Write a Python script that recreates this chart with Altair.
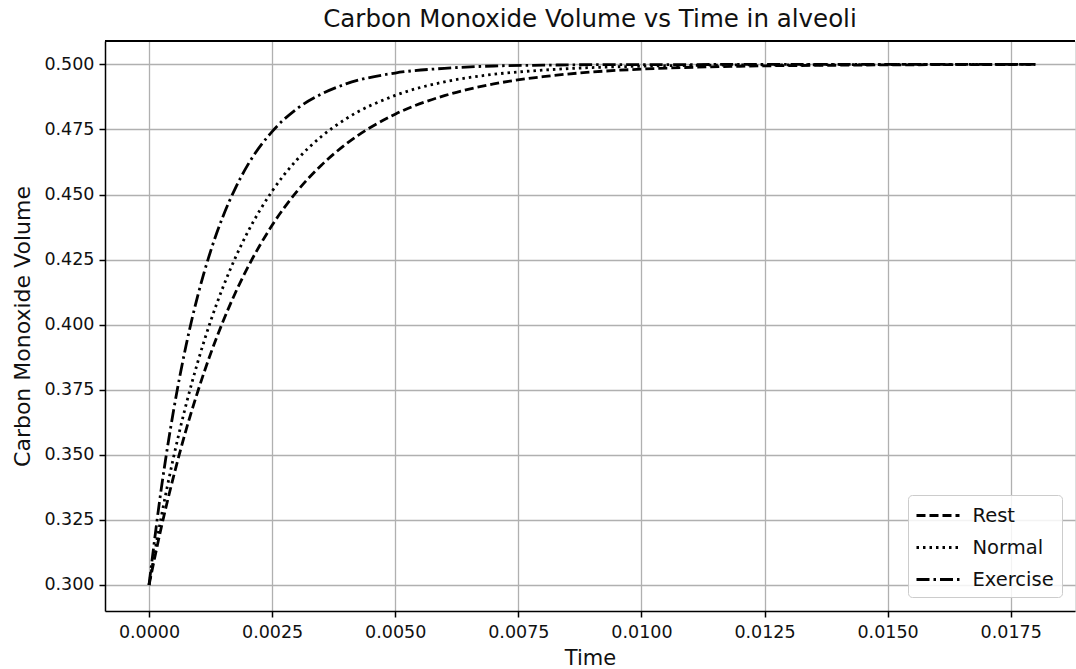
import altair as alt
import pandas as pd

# ---- data ----
time = [0, 0.00025, 0.0005, 0.00075, 0.001, 0.00125, 0.0015, 0.00175, 0.002,
        0.0025, 0.003, 0.0035, 0.004, 0.005, 0.006, 0.007, 0.008, 0.009,
        0.010, 0.012, 0.014, 0.016, 0.018]
rest = [0.300, 0.3222, 0.3418, 0.3594, 0.3749, 0.3888, 0.4011, 0.4121, 0.4218,
        0.4382, 0.4511, 0.4613, 0.4694, 0.4809, 0.4880, 0.4925, 0.4953, 0.4971,
        0.4982, 0.4993, 0.4997, 0.4999, 0.5000]
normal = [0.300, 0.3263, 0.3492, 0.3691, 0.3863, 0.4013, 0.4143, 0.4256, 0.4354,
          0.4513, 0.4633, 0.4723, 0.4791, 0.4881, 0.4933, 0.4962, 0.4978, 0.4988,
          0.4993, 0.4998, 0.4999, 0.5000, 0.5000]
exercise = [0.300, 0.3371, 0.3672, 0.3918, 0.4119, 0.4282, 0.4415, 0.4523, 0.4612,
            0.4742, 0.4829, 0.4886, 0.4925, 0.4967, 0.4985, 0.4994, 0.4997, 0.4999,
            0.4999, 0.5000, 0.5000, 0.5000, 0.5000]
series_names = ["Rest", "Normal", "Exercise"]
x_ticks = [0.0, 0.0025, 0.005, 0.0075, 0.01, 0.0125, 0.015, 0.0175]
y_ticks = [0.300, 0.325, 0.350, 0.375, 0.400, 0.425, 0.450, 0.475, 0.500]

rows = []
for name, vals in zip(series_names, [rest, normal, exercise]):
    for t, v in zip(time, vals):
        rows.append({"Time": t, "Volume": v, "Condition": name})
df = pd.DataFrame(rows)

FONT = "DejaVu Sans"
W, H = 970, 570

xscale = alt.Scale(domain=[-0.000894, 0.018806], nice=False, zero=False)
yscale = alt.Scale(domain=[0.29, 0.509], nice=False, zero=False)

lines = alt.Chart(df).mark_line(strokeWidth=2.8, color="black", interpolate="monotone", clip=True).encode(
    x=alt.X("Time:Q", scale=xscale,
            axis=alt.Axis(title="Time", values=x_ticks, format=".4f", grid=True,
                          gridColor="#b0b0b0", gridWidth=1.3,
                          domainColor="black", domainWidth=1.5,
                          tickColor="black", tickSize=6, tickWidth=1.5,
                          labelFontSize=17.5, labelFont=FONT, labelColor="#111111",
                          labelPadding=6, titleFontSize=21, titleFont=FONT,
                          titleFontWeight="normal", titleColor="#111111",
                          titlePadding=7, labelFlush=False)),
    y=alt.Y("Volume:Q", scale=yscale,
            axis=alt.Axis(title="Carbon Monoxide Volume", values=y_ticks, format=".3f",
                          grid=True, gridColor="#b0b0b0", gridWidth=1.3,
                          domainColor="black", domainWidth=1.5,
                          tickColor="black", tickSize=6, tickWidth=1.5,
                          labelFontSize=17.5, labelFont=FONT, labelColor="#111111",
                          labelPadding=5, titleFontSize=22, titleFont=FONT,
                          titleFontWeight="normal", titleColor="#111111",
                          titlePadding=9, labelFlush=False)),
    strokeDash=alt.StrokeDash(
        "Condition:N",
        scale=alt.Scale(domain=series_names,
                        range=[[9, 4], [2.5, 4], [13, 4, 2.5, 4]]),
        legend=alt.Legend(title=None, orient="none", legendX=803, legendY=454,
                          symbolType="M-1.955,0H1.955", symbolSize=484,
                          symbolOffset=9.5, symbolStrokeWidth=2.8,
                          symbolStrokeColor="black", symbolFillColor="transparent",
                          labelFontSize=19.5, labelFont=FONT,
                          labelColor="#111111", labelOffset=22, rowPadding=10,
                          padding=8, strokeColor="#cccccc", fillColor="rgba(255,255,255,0.85)",
                          cornerRadius=4)),
)

top_border = alt.Chart(df).mark_rule(color="black", strokeWidth=1.5).encode(
    x=alt.value(0), x2=alt.value(W), y=alt.value(0)
)

chart = alt.layer(lines, top_border).properties(
    width=W, height=H,
    title=alt.TitleParams("Carbon Monoxide Volume vs Time in alveoli", font=FONT,
                          fontSize=24.5, fontWeight="normal", color="#111111",
                          anchor="middle", offset=8),
    autosize=alt.AutoSizeParams(type="none"),
    padding={"left": 105, "top": 41, "right": 1, "bottom": 58},
).configure_view(stroke=None).configure(background="white")

chart.save("out.html", embed_options={"renderer": "svg", "actions": False})
